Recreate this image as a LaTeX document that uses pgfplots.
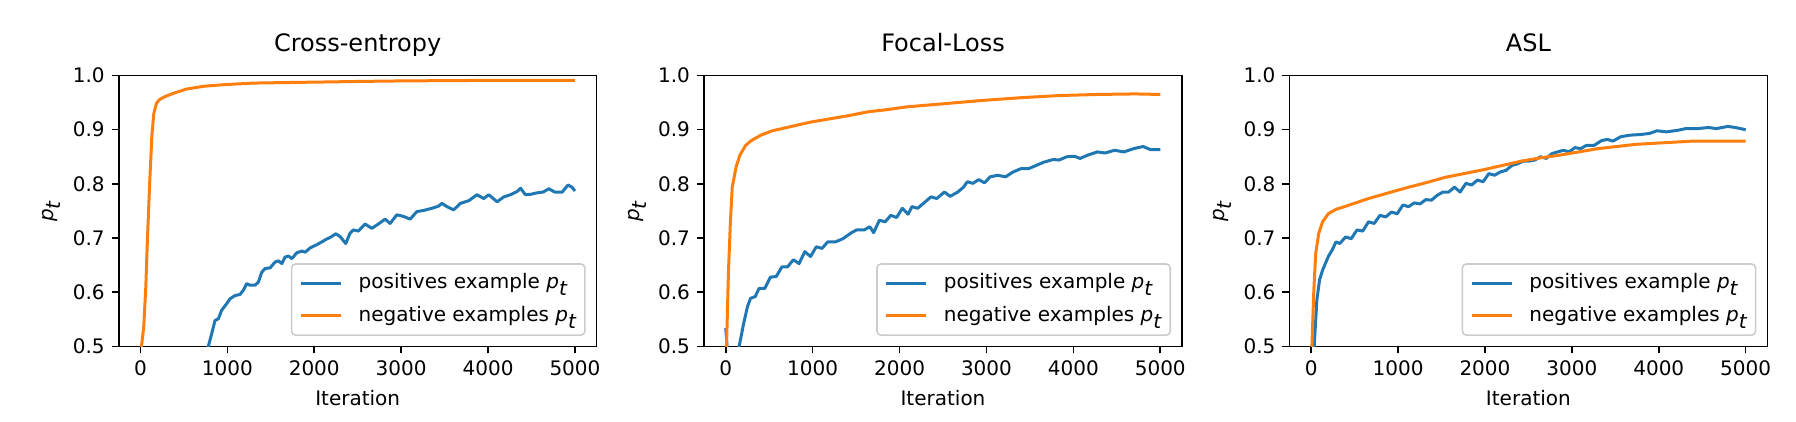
\documentclass[border=0pt]{standalone}
\usepackage{fontspec}
\setmainfont{DejaVu Sans}
\usepackage{pgfplots}
\pgfplotsset{compat=1.18}
\definecolor{cblue}{HTML}{1F77B4}
\definecolor{corange}{HTML}{FF7F0E}
\newcommand{\pt}{$\textit{p}_{\textit{t}}$}
\pgfplotsset{
  myaxis/.style={
    scale only axis, width=239pt, height=135.5pt,
    anchor=south west,
    xmin=-250, xmax=5250, ymin=0.5, ymax=1.0,
    xtick={0,1000,2000,3000,4000,5000},
    ytick={0.5,0.6,0.7,0.8,0.9,1.0},
    scaled ticks=false,
    tick align=outside, major tick length=3.5pt,
    tick style={line width=0.8pt, black},
    axis line style={line width=0.8pt},
    xtick pos=bottom, ytick pos=left,
    /pgf/number format/assume math mode=true,
    xticklabel style={/pgf/number format/.cd, set thousands separator={}, fixed},
    yticklabel style={/pgf/number format/.cd, fixed, fixed zerofill, precision=1},
    tick label style={font=\fontsize{10}{12}\selectfont},
    label style={font=\fontsize{10}{12}\selectfont},
    xlabel={Iteration}, ylabel={\pt},
    xlabel style={at={(axis description cs:0.5,-0.19)}, anchor=center},
    ylabel style={at={(axis description cs:-0.14,0.5)}, anchor=center},
    title style={font=\fontsize{12}{14}\selectfont, at={(0.5,1)}, anchor=base, inner sep=0pt, yshift=6pt},
    every axis plot/.append style={line width=1.5pt, line join=round},
    legend cell align=left,
    legend image code/.code={\draw[#1] (0pt,0pt) -- (20pt,0pt);},
    legend style={
      at={(1,0)}, anchor=south east, xshift=-5.5pt, yshift=5.25pt,
      draw=black!20, line width=0.8pt, rounded corners=2pt,
      fill=white, fill opacity=0.8, text opacity=1,
      font=\fontsize{10}{12}\selectfont,
      inner xsep=4pt, inner ysep=4pt, row sep=5pt, column sep=8pt,
      nodes={inner sep=0pt, text height=8.3pt, text depth=3pt},
    },
  }
}
\begin{document}
\begin{tikzpicture}
\path[use as bounding box] (0,0) rectangle (898pt,211pt);
% ---------------- Cross-entropy
\begin{axis}[myaxis, at={(59.35pt,37.75pt)}, title={Cross-entropy}]
\addplot[cblue] coordinates {
(760,0.488)(781,0.500)(819,0.523)(858,0.548)(896,0.551)(935,0.567)(992,0.579)(1031,0.588)
(1088,0.594)(1146,0.596)(1185,0.604)(1223,0.616)(1261,0.613)(1319,0.613)(1358,0.619)
(1396,0.637)(1435,0.644)(1492,0.645)(1550,0.656)(1588,0.658)(1627,0.653)(1665,0.665)
(1704,0.667)(1742,0.662)(1800,0.673)(1858,0.676)(1896,0.674)(1954,0.682)(2031,0.688)
(2088,0.693)(2140,0.698)(2181,0.701)(2250,0.708)(2296,0.703)(2362,0.690)(2412,0.709)
(2450,0.715)(2508,0.713)(2585,0.726)(2662,0.718)(2738,0.726)(2815,0.735)(2873,0.727)
(2950,0.743)(3027,0.740)(3104,0.735)(3181,0.749)(3258,0.751)(3354,0.755)(3431,0.759)
(3469,0.764)(3527,0.758)(3604,0.752)(3681,0.764)(3777,0.769)(3873,0.780)(3950,0.773)
(4008,0.780)(4104,0.767)(4181,0.776)(4258,0.780)(4335,0.786)(4373,0.792)(4431,0.780)
(4500,0.781)(4546,0.783)(4634,0.785)(4700,0.791)(4766,0.785)(4854,0.785)(4920,0.798)
(4964,0.794)(5000,0.787)
};
\addlegendentry{positives example \pt}
\addplot[corange] coordinates {
(0,0.480)(12,0.500)(38,0.536)(62,0.610)(81,0.700)(108,0.807)(131,0.887)(154,0.930)
(185,0.949)(223,0.956)(281,0.961)(377,0.967)(531,0.975)(723,0.980)(954,0.983)
(1300,0.986)(1685,0.987)(2108,0.988)(2500,0.989)(3000,0.990)(3500,0.9905)(4000,0.991)
(4500,0.991)(5000,0.991)
};
\addlegendentry{negative examples \pt}
\end{axis}
% ---------------- Focal-Loss
\begin{axis}[myaxis, at={(352pt,37.75pt)}, title={Focal-Loss}]
\addplot[cblue] coordinates {
(0,0.534)(20,0.49)(60,0.45)(120,0.47)(154,0.500)(207,0.543)(251,0.574)(286,0.589)
(339,0.592)(383,0.607)(449,0.607)(515,0.628)(581,0.629)(647,0.647)(712,0.647)
(778,0.660)(844,0.653)(910,0.675)(976,0.666)(1042,0.684)(1108,0.681)(1174,0.693)
(1262,0.693)(1350,0.699)(1438,0.709)(1504,0.715)(1592,0.715)(1658,0.721)(1702,0.710)
(1768,0.733)(1834,0.730)(1900,0.742)(1966,0.738)(2032,0.755)(2098,0.744)(2142,0.758)
(2208,0.755)(2296,0.767)(2362,0.776)(2428,0.773)(2516,0.785)(2582,0.777)(2670,0.785)
(2736,0.794)(2780,0.804)(2845,0.801)(2911,0.808)(2977,0.802)(3043,0.813)(3131,0.816)
(3219,0.813)(3307,0.822)(3395,0.828)(3483,0.828)(3571,0.834)(3659,0.840)(3769,0.845)
(3835,0.844)(3923,0.850)(4011,0.851)(4077,0.847)(4165,0.853)(4275,0.859)(4363,0.857)
(4473,0.862)(4583,0.859)(4693,0.865)(4803,0.869)(4891,0.863)(5000,0.863)
};
\addlegendentry{positives example \pt}
\addplot[corange] coordinates {
(0,0.470)(9,0.500)(31,0.635)(53,0.727)(75,0.794)(119,0.831)(163,0.853)(229,0.871)
(295,0.880)(405,0.890)(537,0.898)(756,0.906)(976,0.914)(1196,0.920)(1416,0.926)
(1636,0.933)(1856,0.937)(2076,0.942)(2516,0.948)(2955,0.954)(3395,0.959)(3835,0.963)
(4275,0.965)(4715,0.966)(5000,0.965)
};
\addlegendentry{negative examples \pt}
\end{axis}
% ---------------- ASL
\begin{axis}[myaxis, at={(644.7pt,37.75pt)}, title={ASL}]
\addplot[cblue] coordinates {
(25,0.470)(35,0.500)(66,0.586)(97,0.623)(132,0.641)(198,0.666)(242,0.678)(286,0.693)
(330,0.690)(396,0.702)(462,0.699)(528,0.715)(594,0.713)(660,0.730)(726,0.727)
(792,0.742)(858,0.739)(924,0.748)(990,0.745)(1056,0.761)(1122,0.758)(1187,0.765)
(1253,0.763)(1319,0.771)(1385,0.770)(1451,0.779)(1517,0.785)(1583,0.785)(1649,0.794)
(1715,0.785)(1781,0.801)(1847,0.798)(1913,0.807)(1979,0.804)(2045,0.819)(2111,0.816)
(2177,0.822)(2243,0.825)(2309,0.834)(2375,0.837)(2441,0.842)(2507,0.842)(2573,0.844)
(2639,0.850)(2705,0.847)(2771,0.856)(2837,0.859)(2903,0.862)(2969,0.859)(3035,0.867)
(3101,0.865)(3167,0.871)(3255,0.871)(3343,0.880)(3409,0.882)(3474,0.879)(3562,0.887)
(3672,0.890)(3782,0.891)(3892,0.893)(3980,0.898)(4090,0.896)(4222,0.899)(4310,0.902)
(4442,0.902)(4574,0.904)(4662,0.902)(4794,0.906)(4882,0.904)(5000,0.900)
};
\addlegendentry{positives example \pt}
\addplot[corange] coordinates {
(0,0.470)(9,0.500)(31,0.604)(53,0.672)(88,0.709)(132,0.730)(198,0.745)(286,0.753)
(440,0.761)(660,0.773)(880,0.783)(1100,0.793)(1319,0.802)(1539,0.812)(1759,0.819)
(1979,0.826)(2199,0.834)(2419,0.842)(2639,0.848)(2859,0.853)(3079,0.859)(3298,0.865)
(3518,0.869)(3738,0.873)(3958,0.875)(4398,0.879)(5000,0.879)
};
\addlegendentry{negative examples \pt}
\end{axis}
\end{tikzpicture}
\end{document}
